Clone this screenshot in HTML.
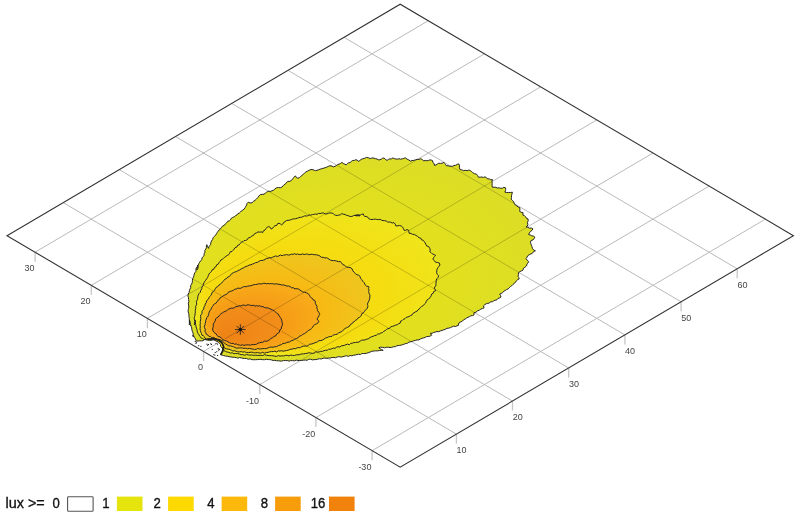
<!DOCTYPE html>
<html lang="en"><head><meta charset="utf-8"><title>Isolux diagram</title>
<style>html,body{margin:0;padding:0;background:#fff;}body{width:800px;height:517px;overflow:hidden;}svg{display:block;}</style>
</head><body>
<svg width="800" height="517" viewBox="0 0 800 517">
<rect width="800" height="517" fill="#fff"/>
<path d="M35.1,252.2L428.3,20.7M91.3,285.3L484.5,53.8M147.4,318.4L540.6,86.9M203.6,351.4L596.8,119.9M259.8,384.5L653.0,153.0M315.9,417.6L709.1,186.1M372.1,450.7L765.3,219.2M456.4,434.1L63.2,202.6M512.5,401.1L119.3,169.6M568.7,368.0L175.5,136.5M624.9,334.9L231.7,103.4M681.1,301.8L287.9,70.3M737.2,268.8L344.0,37.3" fill="none" stroke="#bababa" stroke-width="1" />
<path d="M35.1,252.2v9.5M91.3,285.3v9.5M147.4,318.4v9.5M203.6,351.4v9.5M259.8,384.5v9.5M315.9,417.6v9.5M372.1,450.7v9.5M456.4,434.1v9.5M512.5,401.1v9.5M568.7,368.0v9.5M624.9,334.9v9.5M681.1,301.8v9.5M737.2,268.8v9.5" fill="none" stroke="#c6c6c6" stroke-width="1.3"/>
<defs><clipPath id="oc"><path d="M196.9,270 L197.8,268.5 L198.2,266.8 L198.2,265.1 L198.9,263.5 L199.7,262.1 L200.8,260.8 L201.8,259.5 L202.1,257.8 L203.2,256.6 L204.1,255.2 L204.2,253.5 L205,252.1 L204.8,250.4 L205.8,249 L206.4,247.6 L206.3,246 L206.9,244.7 L207.5,246.7 L208.6,248.4 L208.8,246.8 L209.8,245.6 L210.7,244.3 L210.8,242.7 L211.5,241 L212.6,239.5 L213.2,237.7 L214.5,236.3 L215.5,235.1 L216.5,233.9 L217.2,232.5 L218.2,231.2 L219.1,230 L220.3,228.9 L221.4,227.5 L222.5,226.1 L224.3,225.4 L225.3,223.9 L226.7,222.8 L227.7,221.3 L229.3,220.8 L230.5,219.8 L231.3,218.2 L232.7,217.5 L234.2,216.8 L235.3,215.8 L236.8,215.1 L237.8,213.7 L239.3,213.1 L240.5,212 L241.5,210.8 L242.9,210 L244.2,209 L245.1,207.7 L245.8,206.3 L246.7,205 L247,203.4 L248.2,202.2 L250.1,202.9 L252,202.9 L253.3,201.4 L255,200.4 L256.4,199.1 L257.8,197.7 L258.8,196.1 L260.2,194.7 L262.1,194.4 L264,194.2 L265.2,193.3 L266.4,192.3 L267.7,191.6 L269,191.1 L270.2,191.5 L272,190.8 L273.7,190.1 L275,188.8 L276.5,187.8 L278.4,187.5 L280.3,187.8 L281.9,187.1 L283,185.9 L284.1,184.7 L285.6,183.9 L286.5,182.3 L287.9,181.5 L289.9,181.3 L291.6,180.3 L292.8,178.8 L294,177.2 L295.4,175.8 L296.3,177.4 L297.8,178.3 L299.3,177.6 L300.6,176.5 L301.9,175.5 L303.1,174.4 L304.4,173.4 L305.5,172.1 L307.4,171.2 L309.2,170.2 L311,169.5 L313,169.7 L314.2,170.3 L315.5,170.7 L317,170.3 L318.5,169.8 L320,169.2 L321.5,168.7 L323.1,168.3 L324.9,167.8 L326.6,167.2 L328.3,166.4 L330,165.7 L332,166.1 L333.7,166.9 L335.1,166.2 L336.5,165.6 L337.5,164.6 L339.1,164.1 L340.6,163.4 L341.9,162.3 L343.2,163.5 L344.8,164.2 L346.3,164.8 L347.4,163.6 L348.6,162.8 L350.3,162.5 L351.4,161.3 L352.7,160.5 L354.4,160.4 L355.8,159.7 L357.3,160.2 L358.2,161.3 L359.8,160.6 L361.1,159.4 L362.7,158.8 L364.7,158.3 L366.5,157.4 L368.5,157.8 L370.3,158.6 L372.1,157.9 L374,158.2 L375.5,158.7 L377,159 L378.4,159.8 L380,159.8 L381.3,159 L382.6,158.2 L384.1,158 L385.5,159.5 L387.1,160.4 L388.4,159.4 L389.9,158.9 L391.6,158.8 L392.9,157.9 L394.3,158.6 L395.8,159 L397.3,159.2 L398.9,158.7 L400.6,159.2 L402.3,158.8 L403.9,158.3 L405.5,157.9 L407.1,159.2 L408.9,160 L410.5,161.1 L412.1,160.5 L413.9,160.4 L415.5,159.8 L417.2,159.3 L419,159.5 L420.5,158.7 L422.3,159.5 L423.7,160.9 L425.2,160.4 L426.9,160.8 L428.5,160.4 L430,159.9 L431.3,160.1 L432.6,160.7 L432.8,162.4 L434.2,163.6 L434.4,165.3 L436,165 L437.4,164 L438.8,163.2 L440.5,163.4 L442.2,163.2 L443.8,162.4 L444.7,163.5 L445.6,164.6 L446.4,165.8 L448,165.7 L449.5,166.3 L451.1,166.2 L452.6,166.3 L454,165.4 L455.8,165.3 L457.2,164.3 L458.9,163.9 L459.5,165.8 L459.4,167.8 L460.2,169.7 L461.9,169.8 L463.3,170.7 L465.2,170.3 L467.2,170.7 L468.9,170 L470.4,170.7 L471.7,171.5 L472.8,172.7 L474.5,173.7 L476.4,174.1 L477.6,175.5 L478.4,177.2 L480.1,177.2 L481.8,177 L483.6,177.4 L485.4,176.8 L486.5,178.1 L487.9,178.9 L489.4,178.9 L490.8,179.8 L492.4,179.6 L492,181.5 L492.2,183.4 L492,185.3 L492.3,187.2 L494,187.2 L495.8,187.3 L497.4,188 L499.2,187.8 L500.8,188.3 L502.4,188.2 L503.9,187.4 L505.5,187.8 L505.7,189.3 L505.5,190.8 L504.8,192.1 L506.7,192.6 L508.6,192.5 L510.5,192.5 L512.4,192.2 L512,193.9 L511.5,195.6 L511.5,197.4 L511.1,199.1 L512.4,200.4 L513.6,201.8 L514.4,203.5 L515.4,205.1 L516.9,205.9 L518.1,207 L519.7,207.5 L519.9,209.4 L519.7,211.4 L521.2,212.3 L523,212.6 L522.9,215.1 L524.4,215.7 L525.6,216.7 L526.4,218.3 L528,218.9 L528.2,220.8 L527.4,222.6 L527.9,224.5 L527.3,226 L526,226.9 L527.8,227.2 L529.4,228.2 L531.4,228 L532.9,228.8 L532,230.4 L530.4,231.5 L529.4,232.9 L528.6,234.5 L530.2,235 L531.7,235.8 L533.4,236.1 L534.8,237.1 L534,238.7 L533,239.9 L531.1,240.5 L530.5,242.1 L530.8,243.7 L531.4,245.2 L532,246.8 L532.4,248.3 L533.6,250 L535.4,250.8 L533.7,251.4 L532.6,253.1 L530.9,254 L529.2,254.7 L527.8,255.7 L527,257.2 L526,258.5 L527.2,260.2 L528.7,261.6 L527.6,263.3 L526.7,264.9 L526.9,265.1 L526,266.4 L524.8,267.3 L523.5,268.2 L523,270.1 L521.5,270.8 L520,271.6 L518.5,272.6 L518.4,274.5 L518.1,276.4 L518.8,277.6 L519.2,278.9 L517.7,279.7 L516.5,280.7 L515.5,282 L514.4,283.4 L512.9,284.5 L511.7,285.8 L510.4,286.6 L509.3,287.8 L508.2,288.8 L506.8,289.5 L505.5,290.3 L503.9,291.1 L502.8,292.5 L501.4,293.4 L499.7,294 L500.5,295.5 L501,297 L499.6,297.9 L498,298.4 L496.9,299.8 L495.3,300.3 L493.7,300.6 L492.5,301.9 L490.6,301.7 L489.4,303.1 L487.8,303.3 L486.1,303.8 L484.7,304.8 L483.5,305.9 L484.1,307.9 L482.4,308.6 L480.7,309 L479.4,310.3 L477.6,310.8 L476,312.2 L473.9,312.8 L474.1,314.8 L472.6,315.6 L470.9,315.8 L469.5,316.6 L468,317.3 L466.5,318.1 L465.2,319 L463.5,319.9 L462.2,321.3 L460.5,322 L459,322.9 L458.2,325.1 L458.7,325.1 L457.1,325.8 L455.5,326.5 L453.6,326.2 L452.1,326.8 L450.5,327.6 L448.8,328.1 L447,328.3 L445.5,329.2 L443.8,329.8 L442.1,330.4 L440.4,330.9 L438.8,331.7 L437,331.5 L435.4,332.1 L433.7,332.4 L432.2,333.3 L430.4,333.3 L431.6,335.3 L430.1,336.1 L428.4,336.5 L426.7,336.5 L425.2,337.4 L423.6,337.9 L421.9,338.3 L420.3,339 L418.8,339.9 L417,339.9 L415.4,340.4 L413.7,340.8 L412.1,341.4 L410.5,341.8 L408.9,342.2 L407.5,343.2 L405.8,343.5 L404.3,344.1 L402.7,344.7 L401.2,345.1 L399.7,345.4 L398.1,345.5 L396.6,345.9 L395.2,346.8 L393.4,346.7 L391.7,347.4 L390,347.5 L388.2,347.2 L386.4,347.3 L384.5,347.8 L382.6,347.3 L380.7,347.2 L378.8,347.7 L380.2,348.7 L381.6,349.7 L383.2,350.3 L381.3,350.3 L379.4,350.5 L377.5,350.9 L375.6,350.8 L373.7,351.1 L371.8,351.3 L370,352.1 L368.1,352.8 L366.6,353.2 L365,353.6 L363.4,353.5 L361.8,353.6 L360.3,354.6 L358.6,354.2 L357,354.5 L355.5,355 L353.7,355.2 L351.9,355.8 L350.1,355.5 L348.4,356.4 L346.4,355.7 L344.7,356.2 L342.9,356.7 L341.1,357.1 L339.3,356.7 L337.5,356.8 L335.7,357.8 L333.9,357.4 L332.1,357.5 L330.3,358 L328.5,358 L326.7,358.4 L324.9,358.1 L323.1,358.2 L321.3,359 L319.5,358.7 L317.7,359.2 L315.9,359.6 L314.1,359.6 L312.4,359.9 L310.5,359.2 L308.7,359.3 L307,360.3 L305.2,360 L303.4,360.2 L301.6,360.5 L299.8,360.4 L298,360.5 L296.2,360.1 L294.4,360.9 L292.6,360.6 L290.8,360.6 L289,361.1 L287.2,360.5 L285.4,360.6 L283.6,360.5 L281.8,361.1 L280,361 L278.3,360.7 L276.6,360.8 L274.9,360.3 L273.2,360.5 L271.5,359.9 L269.8,359.6 L268.1,359.6 L266.3,359.2 L264.5,359.7 L262.7,359.7 L260.9,359.3 L259.1,359.4 L257.3,359.6 L255.5,359.7 L253.7,359.7 L251.9,359.7 L250.1,358.8 L248.3,359.3 L246.5,358.5 L244.7,358.5 L242.9,358.3 L241.2,357.9 L239.6,357.5 L237.8,358.2 L236.2,357.6 L234.5,357.3 L232.8,357.3 L230.9,356.9 L229,356.7 L227.2,356.2 L225.3,356 L223.7,355.6 L222.1,355.1 L220.4,354.7 L221.2,353.2 L222.1,351.7 L222.7,350 L223,348.2 L223.5,346.4 L222.6,344.5 L221.9,342.7 L220.5,342.1 L219.3,341.1 L218.2,340 L216.8,339.1 L215.3,338.7 L213.7,338.5 L212.1,338.2 L210.7,338.9 L209.1,338.7 L207.6,339.2 L206,339.4 L204.5,339.5 L203.2,340.6 L201.6,340.9 L199.8,340.8 L198.1,341 L196.3,341.1 L195.5,339 L194.7,337.7 L194,336.4 L193.3,335.1 L193.1,333.2 L192.4,331.5 L191.9,329.8 L191.7,327.9 L191,326.2 L190.3,324.5 L190.3,323 L189.9,321.5 L189.5,320 L189.3,321.7 L189.5,323.3 L189.4,325 L189.4,323.3 L189.6,321.6 L189.3,319.9 L189.3,318.3 L188.9,316.6 L189,315 L188.6,313.4 L188.2,311.9 L188.1,310.3 L188.5,308.6 L188.8,306.8 L188.6,305 L188.3,303.2 L188.9,301.5 L188.6,299.6 L188.5,297.8 L187.9,295.9 L188.2,294 L189.1,292.5 L189.4,290.8 L189.9,289.2 L190.7,287.7 L190.6,285.8 L191.5,284.2 L192.3,282.5 L192.4,280.7 L192.6,278.9 L193.4,277.4 L193.9,275.8 L194.2,274.1 L195,272.6 L196,271.2 L195.9,269.5 L196.2,267.9 L197.4,266.6 L197.6,265 L197.5,266.7 L197.2,268.3Z"/></clipPath></defs>
<defs><radialGradient id="g1" gradientUnits="userSpaceOnUse" cx="0" cy="0" r="1" fx="-0.649" fy="0.624" gradientTransform="translate(361.7 259.3) scale(173.8 101.9)"><stop offset="0.70" stop-color="#e2e01e"/><stop offset="1" stop-color="#dcdd25"/></radialGradient><radialGradient id="g2" gradientUnits="userSpaceOnUse" cx="0" cy="0" r="1" fx="-0.649" fy="0.624" gradientTransform="translate(317.0 284.7) scale(122.9 71.7)"><stop offset="0.69" stop-color="#f5dc10"/><stop offset="1" stop-color="#f0e41a"/></radialGradient><radialGradient id="g4" gradientUnits="userSpaceOnUse" cx="0" cy="0" r="1" fx="-0.656" fy="0.616" gradientTransform="translate(285.0 303.4) scale(85.0 49.8)"><stop offset="0.68" stop-color="#f7ba14"/><stop offset="1" stop-color="#eec61e"/></radialGradient><radialGradient id="g8" gradientUnits="userSpaceOnUse" cx="0" cy="0" r="1" fx="-0.654" fy="0.619" gradientTransform="translate(262.0 316.4) scale(57.7 33.1)"><stop offset="0.65" stop-color="#f69c16"/><stop offset="1" stop-color="#f8ac1a"/></radialGradient><radialGradient id="g16" gradientUnits="userSpaceOnUse" cx="0" cy="0" r="1" fx="-0.673" fy="0.598" gradientTransform="translate(247.5 325.1) scale(34.9 20.3)"><stop offset="0.15" stop-color="#ee8416"/><stop offset="1" stop-color="#f28e1a"/></radialGradient></defs>
<path d="M196.9,270 L197.8,268.5 L198.2,266.8 L198.2,265.1 L198.9,263.5 L199.7,262.1 L200.8,260.8 L201.8,259.5 L202.1,257.8 L203.2,256.6 L204.1,255.2 L204.2,253.5 L205,252.1 L204.8,250.4 L205.8,249 L206.4,247.6 L206.3,246 L206.9,244.7 L207.5,246.7 L208.6,248.4 L208.8,246.8 L209.8,245.6 L210.7,244.3 L210.8,242.7 L211.5,241 L212.6,239.5 L213.2,237.7 L214.5,236.3 L215.5,235.1 L216.5,233.9 L217.2,232.5 L218.2,231.2 L219.1,230 L220.3,228.9 L221.4,227.5 L222.5,226.1 L224.3,225.4 L225.3,223.9 L226.7,222.8 L227.7,221.3 L229.3,220.8 L230.5,219.8 L231.3,218.2 L232.7,217.5 L234.2,216.8 L235.3,215.8 L236.8,215.1 L237.8,213.7 L239.3,213.1 L240.5,212 L241.5,210.8 L242.9,210 L244.2,209 L245.1,207.7 L245.8,206.3 L246.7,205 L247,203.4 L248.2,202.2 L250.1,202.9 L252,202.9 L253.3,201.4 L255,200.4 L256.4,199.1 L257.8,197.7 L258.8,196.1 L260.2,194.7 L262.1,194.4 L264,194.2 L265.2,193.3 L266.4,192.3 L267.7,191.6 L269,191.1 L270.2,191.5 L272,190.8 L273.7,190.1 L275,188.8 L276.5,187.8 L278.4,187.5 L280.3,187.8 L281.9,187.1 L283,185.9 L284.1,184.7 L285.6,183.9 L286.5,182.3 L287.9,181.5 L289.9,181.3 L291.6,180.3 L292.8,178.8 L294,177.2 L295.4,175.8 L296.3,177.4 L297.8,178.3 L299.3,177.6 L300.6,176.5 L301.9,175.5 L303.1,174.4 L304.4,173.4 L305.5,172.1 L307.4,171.2 L309.2,170.2 L311,169.5 L313,169.7 L314.2,170.3 L315.5,170.7 L317,170.3 L318.5,169.8 L320,169.2 L321.5,168.7 L323.1,168.3 L324.9,167.8 L326.6,167.2 L328.3,166.4 L330,165.7 L332,166.1 L333.7,166.9 L335.1,166.2 L336.5,165.6 L337.5,164.6 L339.1,164.1 L340.6,163.4 L341.9,162.3 L343.2,163.5 L344.8,164.2 L346.3,164.8 L347.4,163.6 L348.6,162.8 L350.3,162.5 L351.4,161.3 L352.7,160.5 L354.4,160.4 L355.8,159.7 L357.3,160.2 L358.2,161.3 L359.8,160.6 L361.1,159.4 L362.7,158.8 L364.7,158.3 L366.5,157.4 L368.5,157.8 L370.3,158.6 L372.1,157.9 L374,158.2 L375.5,158.7 L377,159 L378.4,159.8 L380,159.8 L381.3,159 L382.6,158.2 L384.1,158 L385.5,159.5 L387.1,160.4 L388.4,159.4 L389.9,158.9 L391.6,158.8 L392.9,157.9 L394.3,158.6 L395.8,159 L397.3,159.2 L398.9,158.7 L400.6,159.2 L402.3,158.8 L403.9,158.3 L405.5,157.9 L407.1,159.2 L408.9,160 L410.5,161.1 L412.1,160.5 L413.9,160.4 L415.5,159.8 L417.2,159.3 L419,159.5 L420.5,158.7 L422.3,159.5 L423.7,160.9 L425.2,160.4 L426.9,160.8 L428.5,160.4 L430,159.9 L431.3,160.1 L432.6,160.7 L432.8,162.4 L434.2,163.6 L434.4,165.3 L436,165 L437.4,164 L438.8,163.2 L440.5,163.4 L442.2,163.2 L443.8,162.4 L444.7,163.5 L445.6,164.6 L446.4,165.8 L448,165.7 L449.5,166.3 L451.1,166.2 L452.6,166.3 L454,165.4 L455.8,165.3 L457.2,164.3 L458.9,163.9 L459.5,165.8 L459.4,167.8 L460.2,169.7 L461.9,169.8 L463.3,170.7 L465.2,170.3 L467.2,170.7 L468.9,170 L470.4,170.7 L471.7,171.5 L472.8,172.7 L474.5,173.7 L476.4,174.1 L477.6,175.5 L478.4,177.2 L480.1,177.2 L481.8,177 L483.6,177.4 L485.4,176.8 L486.5,178.1 L487.9,178.9 L489.4,178.9 L490.8,179.8 L492.4,179.6 L492,181.5 L492.2,183.4 L492,185.3 L492.3,187.2 L494,187.2 L495.8,187.3 L497.4,188 L499.2,187.8 L500.8,188.3 L502.4,188.2 L503.9,187.4 L505.5,187.8 L505.7,189.3 L505.5,190.8 L504.8,192.1 L506.7,192.6 L508.6,192.5 L510.5,192.5 L512.4,192.2 L512,193.9 L511.5,195.6 L511.5,197.4 L511.1,199.1 L512.4,200.4 L513.6,201.8 L514.4,203.5 L515.4,205.1 L516.9,205.9 L518.1,207 L519.7,207.5 L519.9,209.4 L519.7,211.4 L521.2,212.3 L523,212.6 L522.9,215.1 L524.4,215.7 L525.6,216.7 L526.4,218.3 L528,218.9 L528.2,220.8 L527.4,222.6 L527.9,224.5 L527.3,226 L526,226.9 L527.8,227.2 L529.4,228.2 L531.4,228 L532.9,228.8 L532,230.4 L530.4,231.5 L529.4,232.9 L528.6,234.5 L530.2,235 L531.7,235.8 L533.4,236.1 L534.8,237.1 L534,238.7 L533,239.9 L531.1,240.5 L530.5,242.1 L530.8,243.7 L531.4,245.2 L532,246.8 L532.4,248.3 L533.6,250 L535.4,250.8 L533.7,251.4 L532.6,253.1 L530.9,254 L529.2,254.7 L527.8,255.7 L527,257.2 L526,258.5 L527.2,260.2 L528.7,261.6 L527.6,263.3 L526.7,264.9 L526.9,265.1 L526,266.4 L524.8,267.3 L523.5,268.2 L523,270.1 L521.5,270.8 L520,271.6 L518.5,272.6 L518.4,274.5 L518.1,276.4 L518.8,277.6 L519.2,278.9 L517.7,279.7 L516.5,280.7 L515.5,282 L514.4,283.4 L512.9,284.5 L511.7,285.8 L510.4,286.6 L509.3,287.8 L508.2,288.8 L506.8,289.5 L505.5,290.3 L503.9,291.1 L502.8,292.5 L501.4,293.4 L499.7,294 L500.5,295.5 L501,297 L499.6,297.9 L498,298.4 L496.9,299.8 L495.3,300.3 L493.7,300.6 L492.5,301.9 L490.6,301.7 L489.4,303.1 L487.8,303.3 L486.1,303.8 L484.7,304.8 L483.5,305.9 L484.1,307.9 L482.4,308.6 L480.7,309 L479.4,310.3 L477.6,310.8 L476,312.2 L473.9,312.8 L474.1,314.8 L472.6,315.6 L470.9,315.8 L469.5,316.6 L468,317.3 L466.5,318.1 L465.2,319 L463.5,319.9 L462.2,321.3 L460.5,322 L459,322.9 L458.2,325.1 L458.7,325.1 L457.1,325.8 L455.5,326.5 L453.6,326.2 L452.1,326.8 L450.5,327.6 L448.8,328.1 L447,328.3 L445.5,329.2 L443.8,329.8 L442.1,330.4 L440.4,330.9 L438.8,331.7 L437,331.5 L435.4,332.1 L433.7,332.4 L432.2,333.3 L430.4,333.3 L431.6,335.3 L430.1,336.1 L428.4,336.5 L426.7,336.5 L425.2,337.4 L423.6,337.9 L421.9,338.3 L420.3,339 L418.8,339.9 L417,339.9 L415.4,340.4 L413.7,340.8 L412.1,341.4 L410.5,341.8 L408.9,342.2 L407.5,343.2 L405.8,343.5 L404.3,344.1 L402.7,344.7 L401.2,345.1 L399.7,345.4 L398.1,345.5 L396.6,345.9 L395.2,346.8 L393.4,346.7 L391.7,347.4 L390,347.5 L388.2,347.2 L386.4,347.3 L384.5,347.8 L382.6,347.3 L380.7,347.2 L378.8,347.7 L380.2,348.7 L381.6,349.7 L383.2,350.3 L381.3,350.3 L379.4,350.5 L377.5,350.9 L375.6,350.8 L373.7,351.1 L371.8,351.3 L370,352.1 L368.1,352.8 L366.6,353.2 L365,353.6 L363.4,353.5 L361.8,353.6 L360.3,354.6 L358.6,354.2 L357,354.5 L355.5,355 L353.7,355.2 L351.9,355.8 L350.1,355.5 L348.4,356.4 L346.4,355.7 L344.7,356.2 L342.9,356.7 L341.1,357.1 L339.3,356.7 L337.5,356.8 L335.7,357.8 L333.9,357.4 L332.1,357.5 L330.3,358 L328.5,358 L326.7,358.4 L324.9,358.1 L323.1,358.2 L321.3,359 L319.5,358.7 L317.7,359.2 L315.9,359.6 L314.1,359.6 L312.4,359.9 L310.5,359.2 L308.7,359.3 L307,360.3 L305.2,360 L303.4,360.2 L301.6,360.5 L299.8,360.4 L298,360.5 L296.2,360.1 L294.4,360.9 L292.6,360.6 L290.8,360.6 L289,361.1 L287.2,360.5 L285.4,360.6 L283.6,360.5 L281.8,361.1 L280,361 L278.3,360.7 L276.6,360.8 L274.9,360.3 L273.2,360.5 L271.5,359.9 L269.8,359.6 L268.1,359.6 L266.3,359.2 L264.5,359.7 L262.7,359.7 L260.9,359.3 L259.1,359.4 L257.3,359.6 L255.5,359.7 L253.7,359.7 L251.9,359.7 L250.1,358.8 L248.3,359.3 L246.5,358.5 L244.7,358.5 L242.9,358.3 L241.2,357.9 L239.6,357.5 L237.8,358.2 L236.2,357.6 L234.5,357.3 L232.8,357.3 L230.9,356.9 L229,356.7 L227.2,356.2 L225.3,356 L223.7,355.6 L222.1,355.1 L220.4,354.7 L221.2,353.2 L222.1,351.7 L222.7,350 L223,348.2 L223.5,346.4 L222.6,344.5 L221.9,342.7 L220.5,342.1 L219.3,341.1 L218.2,340 L216.8,339.1 L215.3,338.7 L213.7,338.5 L212.1,338.2 L210.7,338.9 L209.1,338.7 L207.6,339.2 L206,339.4 L204.5,339.5 L203.2,340.6 L201.6,340.9 L199.8,340.8 L198.1,341 L196.3,341.1 L195.5,339 L194.7,337.7 L194,336.4 L193.3,335.1 L193.1,333.2 L192.4,331.5 L191.9,329.8 L191.7,327.9 L191,326.2 L190.3,324.5 L190.3,323 L189.9,321.5 L189.5,320 L189.3,321.7 L189.5,323.3 L189.4,325 L189.4,323.3 L189.6,321.6 L189.3,319.9 L189.3,318.3 L188.9,316.6 L189,315 L188.6,313.4 L188.2,311.9 L188.1,310.3 L188.5,308.6 L188.8,306.8 L188.6,305 L188.3,303.2 L188.9,301.5 L188.6,299.6 L188.5,297.8 L187.9,295.9 L188.2,294 L189.1,292.5 L189.4,290.8 L189.9,289.2 L190.7,287.7 L190.6,285.8 L191.5,284.2 L192.3,282.5 L192.4,280.7 L192.6,278.9 L193.4,277.4 L193.9,275.8 L194.2,274.1 L195,272.6 L196,271.2 L195.9,269.5 L196.2,267.9 L197.4,266.6 L197.6,265 L197.5,266.7 L197.2,268.3Z" fill="url(#g1)" stroke="none"/>
<path d="M224.1,350.8 L223.5,349 L222,347.8 L220.7,346.5 L220.5,344.6 L219.4,343.2 L218.2,341.8 L216.6,341.5 L215.2,340.5 L213.7,340 L212.2,340 L210.7,340.5 L209.1,340.2 L207.6,340.2 L205.8,339.7 L204,339.6 L202.8,338.5 L201.2,338.1 L200.2,336.6 L199.2,335.1 L198.1,333.5 L197.3,331.8 L197.1,329.8 L196.4,328.1 L196,326.3 L195.7,324.5 L195.4,323 L195.1,321.5 L194.9,320 L195.3,321.7 L194.8,323.3 L194.4,325 L194.5,323.3 L195.1,321.6 L194.7,320 L194.1,318.3 L194.6,316.6 L195,315.1 L195.1,313.5 L195.4,311.9 L195.2,310.3 L195.8,308.5 L195.6,306.5 L196.6,304.8 L196.6,302.8 L196.4,301.2 L197.4,299.8 L197.7,298.3 L197.8,296.7 L198.2,295.2 L199.1,293.5 L200.4,292.1 L200.8,290.2 L201.8,288.8 L201.9,287 L203.1,285.6 L203.4,284 L204.3,282.2 L205.4,280.6 L206.5,279 L207.6,277.5 L208.3,275.7 L209,274 L210.2,272.6 L211.5,271.5 L212.1,269.8 L213.9,269.1 L214.5,267.4 L216.1,266.6 L216.6,264.8 L218.3,264.1 L219.1,262.5 L220,261.3 L220.9,260 L222.3,259.3 L223.5,258.4 L224.5,257.3 L225.8,256.5 L227.1,255.5 L228.6,254.8 L229.5,253.5 L230.2,251.9 L232,251.5 L233.1,250.3 L234.2,249.1 L235.1,247.6 L236.8,247.1 L237.5,245.4 L239.2,244.9 L240.2,243.4 L241.4,242.3 L243,241.6 L244,240.6 L245.4,240.5 L246.9,240 L247.7,238.5 L249,237.7 L250.5,237.2 L251.9,236 L253.6,235.3 L254.6,233.6 L256.4,232.9 L258,231.9 L260,232.2 L261.4,231.9 L262.6,232.8 L263.1,231.1 L264.8,230.3 L265.6,228.8 L267.1,227.4 L268.7,226.5 L270.4,227.5 L271.2,229.1 L272.7,228.2 L273.7,226.8 L275,225.7 L276.7,225.5 L277.4,223.8 L279,223.2 L280.3,223.9 L281.4,224.9 L282.8,224.1 L283.6,222.5 L285,221.7 L286.4,220.6 L288,220.3 L289.6,220.2 L291.2,219.7 L292.7,219 L294.3,218.9 L295.8,218.7 L297.3,218.2 L298.8,217.7 L300.3,217.3 L301.8,217.2 L303.3,216.5 L304.7,215.9 L306.3,216 L307.8,215.8 L309.2,214.9 L310.8,215.2 L312.3,214.6 L313.8,214.4 L315.3,214 L317,214.4 L318.4,213.4 L320,213.6 L321.6,213.2 L323.4,212.9 L325,213.9 L326.7,214 L328.3,213.3 L329.9,212.9 L331.8,213.1 L333.2,213.5 L334.2,214.7 L335.5,215.3 L337.2,215.5 L338.8,215.1 L340.4,214.8 L341.8,213.7 L343.4,214.2 L345,214.5 L346.5,215.3 L348.1,215.7 L349.9,216.4 L351.8,216.5 L353.6,215.6 L355.6,215.3 L357.1,215.5 L358.6,215 L360,215.9 L358.3,215.7 L356.6,215.9 L355,215.4 L356.7,215 L358.4,214.8 L360.1,215.2 L361.5,214.4 L363.3,214 L363.8,215.3 L364.5,216.4 L366.1,216.5 L367.6,217 L368.9,218.8 L370.5,219.4 L372,219.6 L373.6,219.3 L375.2,219.1 L376.7,219.4 L378.3,219.7 L379.9,219.3 L381.4,220.1 L383,220.6 L384.7,220.7 L386.3,221.1 L387.7,222.1 L389.3,222 L390.8,222.3 L392.4,223 L394,222.6 L395.2,224.1 L395.9,226 L397.8,225.8 L399.7,225.5 L401.5,226.2 L402.8,227.3 L403.5,228.7 L404.1,230.3 L405.6,230.4 L407,229.6 L408.5,230.2 L408.9,231.7 L409.1,233.3 L410.9,233.4 L412.5,234.3 L414.3,234.5 L416,235.4 L417.6,236.5 L419.1,237.8 L420.8,238.2 L421.5,239.8 L423.2,240.3 L424.2,241.5 L425.1,242.9 L425.9,244.4 L426.7,246 L428,246.4 L429.3,247.2 L429.9,248.6 L430.2,250.1 L429.8,251.7 L431.2,252.7 L432.4,253.9 L434,254.6 L435.6,255.4 L434.5,256.5 L433.6,257.7 L432.9,259.1 L434.3,260.7 L435.5,262.2 L437.4,262.5 L439.2,262.9 L440,265 L438.9,266.3 L438,267.6 L437,269.1 L436.8,270.8 L436.6,272.7 L437.3,274.4 L438.7,275.8 L438,277.4 L436.9,278.7 L436.2,280.2 L436.2,281.9 L435.9,283.5 L436,285.1 L435.1,286.7 L434.1,288.4 L435.3,289.3 L435.5,290.8 L433.8,291.4 L433.2,293.3 L431.7,294 L431.1,295.9 L430.1,297.6 L428.5,298.9 L427.1,299.9 L426.3,301.4 L425.6,303.1 L424.3,304.2 L423.2,305.6 L421.5,306.5 L420.2,307.7 L419.1,309.1 L417.8,310 L416.9,311.4 L415.3,311.9 L414,312.8 L412.7,313.6 L411.9,315.1 L410.3,315.7 L409.1,316.5 L407.7,317 L406.1,317.4 L405,318.7 L403.4,319.3 L402.2,320.5 L400.6,321.2 L400.2,323.1 L398.6,323.7 L397.2,324.8 L395.5,325.1 L394,325.9 L392.3,326.4 L390.7,326.8 L389.6,328.3 L387.9,328.7 L386.4,329.5 L385.2,330.6 L383.7,331.4 L382.5,332.5 L380.9,333 L379.5,333.9 L377.7,334 L376.3,335.3 L374.6,335.6 L373.1,336.3 L371.5,336.8 L369.9,337.6 L368.1,339 L366.5,339.2 L365,339.9 L363.3,340.1 L361.6,340.2 L360.2,341.1 L358.8,342.2 L357.1,342.2 L355.5,342.5 L353.8,342.6 L352.3,343.2 L350.7,343.4 L349.3,344.8 L347.5,344.1 L346,344.7 L344.4,345.3 L342.9,345.7 L341.2,345.8 L339.9,347.1 L338.1,346.7 L336.5,347.2 L335.1,348.3 L333.4,348.1 L331.8,348.7 L330.3,349.3 L328.6,349.2 L327.2,350.3 L325.5,350.2 L324,350.7 L322.5,351.3 L320.8,351.3 L319.3,351.8 L317.7,352.2 L315.8,351.8 L314.2,353.1 L312.4,353.4 L310.6,353 L308.7,352.8 L307,353.3 L305.2,353.6 L303.4,353.9 L301.6,353.9 L299.8,354.5 L298,354.8 L296.2,354.8 L294.5,355.5 L292.6,355.4 L290.8,355 L289,355.9 L287.2,355.3 L285.4,355.4 L283.6,356 L281.8,355.8 L280,356.1 L278.3,355.6 L276.6,356.4 L274.9,356.2 L273.2,355.8 L271.5,355.6 L269.8,355.7 L268.1,355.5 L266.3,355.2 L264.5,354.7 L262.7,355.5 L260.9,355.3 L259.1,355.4 L257.3,355.4 L255.5,355.2 L253.7,355.4 L251.9,354.9 L250.1,355.1 L248.3,354.9 L246.5,354.4 L244.7,355.3 L242.9,354.6 L241.1,354.7 L239.3,354 L237.5,353.6 L235.7,353.5 L233.9,353.6 L232.2,352.8 L230.3,353.1 L228.8,352.3 L227.1,352.1 L225.6,351.4Z" fill="url(#g2)" stroke="none"/>
<path d="M200,325 L200.3,323.3 L200.2,321.6 L200.6,320 L200.8,318.3 L200.6,316.6 L200.7,314.9 L202.1,313.6 L201.9,311.8 L202.5,310.3 L203.8,309 L203.9,307.1 L204.9,305.7 L205.2,304 L206.3,302.5 L206.7,300.6 L208.1,299.4 L209,297.8 L209.8,296.5 L210.9,295.3 L211.7,294 L212,292.4 L213.4,291.5 L214.5,290.2 L215.3,288.7 L216.2,287.3 L217.8,286.5 L218.9,285.1 L220.4,284.1 L221.8,282.9 L222.9,281.5 L224.1,280.2 L225.2,279 L226.7,278.4 L227.7,277 L229.4,276.5 L230.4,275.2 L231.6,273.7 L233.2,272.8 L234.8,272 L236.7,271.5 L238.1,270.5 L239.8,269.9 L241.2,268.8 L242.9,268.2 L244.4,267.3 L246,266.4 L247.7,265.9 L249.2,265 L251,264.8 L252.4,264 L254.1,263.6 L255.5,262.6 L257.4,262.4 L258.9,261.4 L260.5,260.5 L262.1,260.5 L263.6,260.1 L265,259.5 L266.3,258.5 L267.9,258.4 L269.4,257.5 L271.1,257.9 L272.6,257.2 L274.1,256.6 L275.6,255.9 L277.4,256.5 L278.9,255.9 L280.4,255 L282.1,255.7 L283.6,255.1 L285.2,254.9 L286.7,254.6 L288.3,255 L289.9,254.9 L291.4,254.1 L293,254.4 L294.5,253.7 L296.1,254.4 L297.7,254 L299.4,254.5 L301,254.5 L302.6,253.8 L304.1,254.6 L305.8,254.1 L307.4,254 L308.9,254.8 L310.8,254.2 L312.6,254.4 L314.5,254.7 L316.4,254.8 L318.3,255.3 L320,256 L321.4,257.4 L323.1,257.2 L324.8,258 L326.4,257.7 L327.8,258.3 L329.1,259.2 L330.3,260.1 L331.9,260.5 L333.6,260.6 L335.3,260.7 L336.9,261.1 L338.6,261.7 L340.3,261.4 L341.6,262.9 L342.8,264.6 L344.2,265.1 L345.5,266 L346.6,267.2 L348.5,267.3 L350.4,267.6 L352.1,268.8 L352.9,270.8 L354.1,272.4 L355.5,273.7 L356.9,274.7 L358.6,275.2 L360.1,276.4 L360.5,278.2 L361.7,279.6 L362.8,281.3 L364.2,282.7 L364.8,284.1 L365.6,285.4 L366.7,286.3 L368.1,286.3 L369.1,287.1 L368.4,288.5 L369.1,290.1 L368.6,291.5 L369.1,293.4 L370,295.3 L369.8,297 L369.7,298.7 L369.2,300.3 L368.2,302.2 L367.5,304.1 L367.8,305.3 L367.9,306.5 L367.2,308.6 L365.5,310 L365.4,310 L364.4,311.5 L363.3,312.9 L361.7,313.8 L361.4,315.3 L360.6,316.5 L359.3,317.4 L357.9,318.1 L357,319.6 L355.5,320.2 L354.4,321.6 L352.7,322.5 L351.7,324 L350.2,324.7 L349.4,326.4 L347.9,327.1 L346.3,327.9 L344.6,328.7 L343.4,330.1 L342.1,331.4 L340.5,332.2 L338.7,332.9 L337.2,334.2 L335.3,334.6 L333.5,334.9 L332.1,336.3 L330.3,336.6 L328.6,336.8 L327.1,337.6 L325.4,338.1 L324,339.2 L322.6,340.1 L320.9,340.6 L319.1,340.6 L317.7,341.7 L316.2,342.4 L314.6,342.9 L313,343.6 L311.4,344.1 L309.7,344.1 L308.4,345.5 L306.9,346.2 L305.2,346 L303.5,346.2 L301.9,346.5 L300.5,347.6 L298.9,347.7 L297.2,347.7 L295.8,348.8 L294.1,348.5 L292.6,349 L291,349.2 L289.4,349.7 L287.9,350.3 L286.3,350.5 L284.8,350.9 L283.2,351.2 L281.6,350.7 L280,351.1 L278.3,350.8 L276.7,352 L274.8,351.2 L273.2,351.6 L271.4,351.6 L269.7,351.8 L268.1,352.4 L266.3,352.5 L264.5,353.2 L262.7,352.3 L260.9,353.1 L259.1,353 L257.3,352.6 L255.5,352.8 L253.7,352.8 L251.9,352.1 L250.1,352.4 L248.3,352.6 L246.5,352.6 L244.7,351.8 L242.9,352.1 L241.3,351.6 L239.5,351.9 L237.8,351.9 L236.2,351.3 L234.5,350.7 L232.8,351 L231.3,350.1 L229.8,349.5 L228.2,349.1 L226.6,348.9 L224.6,348.2 L223.4,346.5 L223.2,344.6 L221.6,343.3 L221.5,341.5 L219.5,341.1 L217.7,340.2 L216.1,340 L214.5,339.7 L213,339.1 L211.4,339.4 L209.8,339.5 L208.2,339.2 L206.7,339 L205.1,338.4 L204.5,336.9 L203.4,335.9 L201.9,335.2 L201.5,333.6 L200.8,332.1 L200.4,330.5 L200,328.9 L200.3,326.9Z" fill="url(#g4)" stroke="none"/>
<path d="M205.1,325 L205.1,323.4 L205.7,322 L205.7,320.5 L206.3,319 L206.9,317.5 L208.1,316.1 L208.6,314.5 L209,312.8 L209.6,311.1 L210.8,309.7 L211.5,307.9 L212.6,306.4 L213.4,305 L214.5,303.8 L216.1,303.1 L217,301.8 L217.8,300.4 L219.2,299.5 L220,298 L221.3,297.1 L222.8,296.3 L224,295.3 L225.8,294.6 L227.4,293.7 L228.5,292 L230.3,291.4 L231.9,291 L233.5,290.2 L234.9,289.2 L236.6,288.9 L238,288 L239.9,288.4 L241.4,287.9 L242.9,287 L244.4,286.5 L246.1,286.8 L247.6,286.2 L249.2,285.9 L250.9,285.8 L252.4,285.2 L253.9,284.7 L255.5,284.5 L257.1,284.3 L258.6,283.8 L260.2,283.8 L261.8,284 L263.4,283.3 L264.9,283.3 L266.5,283.8 L268.1,283.5 L269.6,283.7 L271.2,283.7 L272.8,283.7 L274.3,284.1 L276.2,283.8 L278.1,284.2 L280,284.4 L281.6,285 L283.4,284.9 L285,285.3 L286.6,286.1 L288.4,286 L290,286.5 L291.5,287.7 L293.5,287.8 L295,288.9 L296.9,288.7 L298.7,289.1 L300,290.2 L301.5,290.9 L302.6,292.1 L304.6,292.1 L306.4,292.8 L308.3,293.7 L309.5,295.3 L310.2,296.7 L311.2,297.8 L312.5,298.5 L313.1,299.9 L314.8,300.4 L315.3,301.9 L315.4,303.6 L316.2,305 L317.1,306.4 L316.8,307.9 L317.4,309.4 L317.6,310.8 L318.9,312.5 L319.7,314.6 L318.8,315.8 L318.3,317.3 L317.1,318.3 L317.6,320.1 L319,321.4 L317.9,322.9 L316.4,323.9 L314.7,324.7 L313.4,325.7 L312.7,327.1 L311.6,328.3 L310.5,329.6 L308.8,330.2 L307.4,331.4 L305.9,332.6 L304.4,333.7 L302.7,334.4 L301.3,335.6 L299.4,336.2 L298.2,337.7 L296.5,338.5 L294.7,339.2 L293.1,340.3 L291.2,340.7 L289.8,341.9 L288,342.1 L286.3,342.7 L284.8,343.4 L283,343.4 L281.6,344.5 L280,345.1 L278.3,345.6 L276.7,346.6 L274.8,346.7 L273,347.3 L271.3,347 L269.6,347.3 L268,347.9 L266.3,348.6 L264.6,348.6 L262.9,348.6 L261.2,348.9 L259.6,349 L257.8,348.4 L256.2,349.3 L254.5,349.5 L252.8,349 L251,348.9 L249.3,348.3 L247.5,348.8 L245.8,348.2 L244,348.4 L242.3,348 L240.5,347.9 L238.7,348 L236.9,348.2 L235.2,347.7 L233.7,346.8 L232.2,346.4 L230.6,345.9 L228.9,346 L227.1,344.9 L225.3,344 L224,342.7 L222.9,341.3 L221.4,340.3 L219.9,339.7 L218.3,339.2 L216.6,339.1 L215.1,338.3 L213.7,337.4 L211.8,337.9 L210.5,336.5 L208.9,336.4 L207.9,335.1 L206.3,334.4 L205.8,332.8 L204.9,331.2 L205.3,329.3 L204.5,327.7 L204.3,326.2Z" fill="url(#g8)" stroke="none"/>
<path d="M212.6,329 L213.1,327.4 L213.3,325.7 L213.3,324.1 L214.3,322.4 L215.3,320.8 L215.6,318.8 L216.8,317.8 L218.2,317 L219.1,315.7 L220.2,314.6 L221.2,313.4 L222.6,312.9 L223.8,311.9 L225.2,311.4 L226.8,310.7 L228.1,309.3 L229.7,308.7 L231.4,308.1 L233.1,308.2 L234.6,307.6 L236,306.5 L237.7,306.5 L239.2,305.7 L240.9,306 L242.4,305.2 L244,305.1 L245.6,305.7 L247.1,304.9 L248.7,304.8 L250.3,305.3 L251.8,305.7 L253.5,305.2 L255,306.1 L256.6,305.7 L258.2,306.1 L259.8,305.7 L261.3,306.7 L262.9,306.5 L264.3,307.4 L265.9,307.9 L267.7,307.8 L269.2,308.6 L270.9,309.1 L272.5,310 L274.2,310.7 L275.5,312 L276.7,313.3 L278.4,314.2 L279.1,315.8 L280.2,317.2 L281.1,318.6 L281.7,320.2 L282,321.9 L282.4,323.5 L282.4,325.2 L281.5,327 L281.2,329.1 L279.6,330.2 L279.5,332.2 L277.9,333.3 L276.5,334.1 L275.8,335.9 L274.1,336.4 L272.6,337.7 L270.8,338.6 L269.3,339.9 L267.8,340.8 L266.2,341.3 L264.3,341.1 L262.9,342.3 L261.2,342.4 L259.6,342.7 L258,343.2 L256.6,344.2 L255.1,344.5 L253.4,344.6 L251.8,344.6 L250.3,345.2 L248.7,344.9 L247.1,344.9 L245.6,344.9 L244,345.5 L242.5,344.7 L240.8,345.4 L239.3,345 L237.7,344.7 L236.2,343.9 L234.5,344.3 L233.1,343.3 L231.4,343.5 L229.6,342.8 L228,341.9 L226.4,341 L224.5,340.5 L222.9,339.6 L221.4,338.3 L220.2,336.9 L218.3,336.6 L216.9,335.4 L216.3,333.9 L214.9,333.1 L213.8,332.1 L212.9,330.7Z" fill="url(#g16)" stroke="none"/>
<path d="M35.1,252.2L428.3,20.7M91.3,285.3L484.5,53.8M147.4,318.4L540.6,86.9M203.6,351.4L596.8,119.9M259.8,384.5L653.0,153.0M315.9,417.6L709.1,186.1M372.1,450.7L765.3,219.2M456.4,434.1L63.2,202.6M512.5,401.1L119.3,169.6M568.7,368.0L175.5,136.5M624.9,334.9L231.7,103.4M681.1,301.8L287.9,70.3M737.2,268.8L344.0,37.3" fill="none" stroke="#000" stroke-width="1" stroke-opacity="0.2" clip-path="url(#oc)"/>
<path d="M196.9,270 L197.8,268.5 L198.2,266.8 L198.2,265.1 L198.9,263.5 L199.7,262.1 L200.8,260.8 L201.8,259.5 L202.1,257.8 L203.2,256.6 L204.1,255.2 L204.2,253.5 L205,252.1 L204.8,250.4 L205.8,249 L206.4,247.6 L206.3,246 L206.9,244.7 L207.5,246.7 L208.6,248.4 L208.8,246.8 L209.8,245.6 L210.7,244.3 L210.8,242.7 L211.5,241 L212.6,239.5 L213.2,237.7 L214.5,236.3 L215.5,235.1 L216.5,233.9 L217.2,232.5 L218.2,231.2 L219.1,230 L220.3,228.9 L221.4,227.5 L222.5,226.1 L224.3,225.4 L225.3,223.9 L226.7,222.8 L227.7,221.3 L229.3,220.8 L230.5,219.8 L231.3,218.2 L232.7,217.5 L234.2,216.8 L235.3,215.8 L236.8,215.1 L237.8,213.7 L239.3,213.1 L240.5,212 L241.5,210.8 L242.9,210 L244.2,209 L245.1,207.7 L245.8,206.3 L246.7,205 L247,203.4 L248.2,202.2 L250.1,202.9 L252,202.9 L253.3,201.4 L255,200.4 L256.4,199.1 L257.8,197.7 L258.8,196.1 L260.2,194.7 L262.1,194.4 L264,194.2 L265.2,193.3 L266.4,192.3 L267.7,191.6 L269,191.1 L270.2,191.5 L272,190.8 L273.7,190.1 L275,188.8 L276.5,187.8 L278.4,187.5 L280.3,187.8 L281.9,187.1 L283,185.9 L284.1,184.7 L285.6,183.9 L286.5,182.3 L287.9,181.5 L289.9,181.3 L291.6,180.3 L292.8,178.8 L294,177.2 L295.4,175.8 L296.3,177.4 L297.8,178.3 L299.3,177.6 L300.6,176.5 L301.9,175.5 L303.1,174.4 L304.4,173.4 L305.5,172.1 L307.4,171.2 L309.2,170.2 L311,169.5 L313,169.7 L314.2,170.3 L315.5,170.7 L317,170.3 L318.5,169.8 L320,169.2 L321.5,168.7 L323.1,168.3 L324.9,167.8 L326.6,167.2 L328.3,166.4 L330,165.7 L332,166.1 L333.7,166.9 L335.1,166.2 L336.5,165.6 L337.5,164.6 L339.1,164.1 L340.6,163.4 L341.9,162.3 L343.2,163.5 L344.8,164.2 L346.3,164.8 L347.4,163.6 L348.6,162.8 L350.3,162.5 L351.4,161.3 L352.7,160.5 L354.4,160.4 L355.8,159.7 L357.3,160.2 L358.2,161.3 L359.8,160.6 L361.1,159.4 L362.7,158.8 L364.7,158.3 L366.5,157.4 L368.5,157.8 L370.3,158.6 L372.1,157.9 L374,158.2 L375.5,158.7 L377,159 L378.4,159.8 L380,159.8 L381.3,159 L382.6,158.2 L384.1,158 L385.5,159.5 L387.1,160.4 L388.4,159.4 L389.9,158.9 L391.6,158.8 L392.9,157.9 L394.3,158.6 L395.8,159 L397.3,159.2 L398.9,158.7 L400.6,159.2 L402.3,158.8 L403.9,158.3 L405.5,157.9 L407.1,159.2 L408.9,160 L410.5,161.1 L412.1,160.5 L413.9,160.4 L415.5,159.8 L417.2,159.3 L419,159.5 L420.5,158.7 L422.3,159.5 L423.7,160.9 L425.2,160.4 L426.9,160.8 L428.5,160.4 L430,159.9 L431.3,160.1 L432.6,160.7 L432.8,162.4 L434.2,163.6 L434.4,165.3 L436,165 L437.4,164 L438.8,163.2 L440.5,163.4 L442.2,163.2 L443.8,162.4 L444.7,163.5 L445.6,164.6 L446.4,165.8 L448,165.7 L449.5,166.3 L451.1,166.2 L452.6,166.3 L454,165.4 L455.8,165.3 L457.2,164.3 L458.9,163.9 L459.5,165.8 L459.4,167.8 L460.2,169.7 L461.9,169.8 L463.3,170.7 L465.2,170.3 L467.2,170.7 L468.9,170 L470.4,170.7 L471.7,171.5 L472.8,172.7 L474.5,173.7 L476.4,174.1 L477.6,175.5 L478.4,177.2 L480.1,177.2 L481.8,177 L483.6,177.4 L485.4,176.8 L486.5,178.1 L487.9,178.9 L489.4,178.9 L490.8,179.8 L492.4,179.6 L492,181.5 L492.2,183.4 L492,185.3 L492.3,187.2 L494,187.2 L495.8,187.3 L497.4,188 L499.2,187.8 L500.8,188.3 L502.4,188.2 L503.9,187.4 L505.5,187.8 L505.7,189.3 L505.5,190.8 L504.8,192.1 L506.7,192.6 L508.6,192.5 L510.5,192.5 L512.4,192.2 L512,193.9 L511.5,195.6 L511.5,197.4 L511.1,199.1 L512.4,200.4 L513.6,201.8 L514.4,203.5 L515.4,205.1 L516.9,205.9 L518.1,207 L519.7,207.5 L519.9,209.4 L519.7,211.4 L521.2,212.3 L523,212.6 L522.9,215.1 L524.4,215.7 L525.6,216.7 L526.4,218.3 L528,218.9 L528.2,220.8 L527.4,222.6 L527.9,224.5 L527.3,226 L526,226.9 L527.8,227.2 L529.4,228.2 L531.4,228 L532.9,228.8 L532,230.4 L530.4,231.5 L529.4,232.9 L528.6,234.5 L530.2,235 L531.7,235.8 L533.4,236.1 L534.8,237.1 L534,238.7 L533,239.9 L531.1,240.5 L530.5,242.1 L530.8,243.7 L531.4,245.2 L532,246.8 L532.4,248.3 L533.6,250 L535.4,250.8 L533.7,251.4 L532.6,253.1 L530.9,254 L529.2,254.7 L527.8,255.7 L527,257.2 L526,258.5 L527.2,260.2 L528.7,261.6 L527.6,263.3 L526.7,264.9 L526.9,265.1 L526,266.4 L524.8,267.3 L523.5,268.2 L523,270.1 L521.5,270.8 L520,271.6 L518.5,272.6 L518.4,274.5 L518.1,276.4 L518.8,277.6 L519.2,278.9 L517.7,279.7 L516.5,280.7 L515.5,282 L514.4,283.4 L512.9,284.5 L511.7,285.8 L510.4,286.6 L509.3,287.8 L508.2,288.8 L506.8,289.5 L505.5,290.3 L503.9,291.1 L502.8,292.5 L501.4,293.4 L499.7,294 L500.5,295.5 L501,297 L499.6,297.9 L498,298.4 L496.9,299.8 L495.3,300.3 L493.7,300.6 L492.5,301.9 L490.6,301.7 L489.4,303.1 L487.8,303.3 L486.1,303.8 L484.7,304.8 L483.5,305.9 L484.1,307.9 L482.4,308.6 L480.7,309 L479.4,310.3 L477.6,310.8 L476,312.2 L473.9,312.8 L474.1,314.8 L472.6,315.6 L470.9,315.8 L469.5,316.6 L468,317.3 L466.5,318.1 L465.2,319 L463.5,319.9 L462.2,321.3 L460.5,322 L459,322.9 L458.2,325.1 L458.7,325.1 L457.1,325.8 L455.5,326.5 L453.6,326.2 L452.1,326.8 L450.5,327.6 L448.8,328.1 L447,328.3 L445.5,329.2 L443.8,329.8 L442.1,330.4 L440.4,330.9 L438.8,331.7 L437,331.5 L435.4,332.1 L433.7,332.4 L432.2,333.3 L430.4,333.3 L431.6,335.3 L430.1,336.1 L428.4,336.5 L426.7,336.5 L425.2,337.4 L423.6,337.9 L421.9,338.3 L420.3,339 L418.8,339.9 L417,339.9 L415.4,340.4 L413.7,340.8 L412.1,341.4 L410.5,341.8 L408.9,342.2 L407.5,343.2 L405.8,343.5 L404.3,344.1 L402.7,344.7 L401.2,345.1 L399.7,345.4 L398.1,345.5 L396.6,345.9 L395.2,346.8 L393.4,346.7 L391.7,347.4 L390,347.5 L388.2,347.2 L386.4,347.3 L384.5,347.8 L382.6,347.3 L380.7,347.2 L378.8,347.7 L380.2,348.7 L381.6,349.7 L383.2,350.3 L381.3,350.3 L379.4,350.5 L377.5,350.9 L375.6,350.8 L373.7,351.1 L371.8,351.3 L370,352.1 L368.1,352.8 L366.6,353.2 L365,353.6 L363.4,353.5 L361.8,353.6 L360.3,354.6 L358.6,354.2 L357,354.5 L355.5,355 L353.7,355.2 L351.9,355.8 L350.1,355.5 L348.4,356.4 L346.4,355.7 L344.7,356.2 L342.9,356.7 L341.1,357.1 L339.3,356.7 L337.5,356.8 L335.7,357.8 L333.9,357.4 L332.1,357.5 L330.3,358 L328.5,358 L326.7,358.4 L324.9,358.1 L323.1,358.2 L321.3,359 L319.5,358.7 L317.7,359.2 L315.9,359.6 L314.1,359.6 L312.4,359.9 L310.5,359.2 L308.7,359.3 L307,360.3 L305.2,360 L303.4,360.2 L301.6,360.5 L299.8,360.4 L298,360.5 L296.2,360.1 L294.4,360.9 L292.6,360.6 L290.8,360.6 L289,361.1 L287.2,360.5 L285.4,360.6 L283.6,360.5 L281.8,361.1 L280,361 L278.3,360.7 L276.6,360.8 L274.9,360.3 L273.2,360.5 L271.5,359.9 L269.8,359.6 L268.1,359.6 L266.3,359.2 L264.5,359.7 L262.7,359.7 L260.9,359.3 L259.1,359.4 L257.3,359.6 L255.5,359.7 L253.7,359.7 L251.9,359.7 L250.1,358.8 L248.3,359.3 L246.5,358.5 L244.7,358.5 L242.9,358.3 L241.2,357.9 L239.6,357.5 L237.8,358.2 L236.2,357.6 L234.5,357.3 L232.8,357.3 L230.9,356.9 L229,356.7 L227.2,356.2 L225.3,356 L223.7,355.6 L222.1,355.1 L220.4,354.7 L221.2,353.2 L222.1,351.7 L222.7,350 L223,348.2 L223.5,346.4 L222.6,344.5 L221.9,342.7 L220.5,342.1 L219.3,341.1 L218.2,340 L216.8,339.1 L215.3,338.7 L213.7,338.5 L212.1,338.2 L210.7,338.9 L209.1,338.7 L207.6,339.2 L206,339.4 L204.5,339.5 L203.2,340.6 L201.6,340.9 L199.8,340.8 L198.1,341 L196.3,341.1 L195.5,339 L194.7,337.7 L194,336.4 L193.3,335.1 L193.1,333.2 L192.4,331.5 L191.9,329.8 L191.7,327.9 L191,326.2 L190.3,324.5 L190.3,323 L189.9,321.5 L189.5,320 L189.3,321.7 L189.5,323.3 L189.4,325 L189.4,323.3 L189.6,321.6 L189.3,319.9 L189.3,318.3 L188.9,316.6 L189,315 L188.6,313.4 L188.2,311.9 L188.1,310.3 L188.5,308.6 L188.8,306.8 L188.6,305 L188.3,303.2 L188.9,301.5 L188.6,299.6 L188.5,297.8 L187.9,295.9 L188.2,294 L189.1,292.5 L189.4,290.8 L189.9,289.2 L190.7,287.7 L190.6,285.8 L191.5,284.2 L192.3,282.5 L192.4,280.7 L192.6,278.9 L193.4,277.4 L193.9,275.8 L194.2,274.1 L195,272.6 L196,271.2 L195.9,269.5 L196.2,267.9 L197.4,266.6 L197.6,265 L197.5,266.7 L197.2,268.3Z" fill="none" stroke="#242424" stroke-width="1" stroke-linejoin="round"/>
<path d="M224.1,350.8 L223.5,349 L222,347.8 L220.7,346.5 L220.5,344.6 L219.4,343.2 L218.2,341.8 L216.6,341.5 L215.2,340.5 L213.7,340 L212.2,340 L210.7,340.5 L209.1,340.2 L207.6,340.2 L205.8,339.7 L204,339.6 L202.8,338.5 L201.2,338.1 L200.2,336.6 L199.2,335.1 L198.1,333.5 L197.3,331.8 L197.1,329.8 L196.4,328.1 L196,326.3 L195.7,324.5 L195.4,323 L195.1,321.5 L194.9,320 L195.3,321.7 L194.8,323.3 L194.4,325 L194.5,323.3 L195.1,321.6 L194.7,320 L194.1,318.3 L194.6,316.6 L195,315.1 L195.1,313.5 L195.4,311.9 L195.2,310.3 L195.8,308.5 L195.6,306.5 L196.6,304.8 L196.6,302.8 L196.4,301.2 L197.4,299.8 L197.7,298.3 L197.8,296.7 L198.2,295.2 L199.1,293.5 L200.4,292.1 L200.8,290.2 L201.8,288.8 L201.9,287 L203.1,285.6 L203.4,284 L204.3,282.2 L205.4,280.6 L206.5,279 L207.6,277.5 L208.3,275.7 L209,274 L210.2,272.6 L211.5,271.5 L212.1,269.8 L213.9,269.1 L214.5,267.4 L216.1,266.6 L216.6,264.8 L218.3,264.1 L219.1,262.5 L220,261.3 L220.9,260 L222.3,259.3 L223.5,258.4 L224.5,257.3 L225.8,256.5 L227.1,255.5 L228.6,254.8 L229.5,253.5 L230.2,251.9 L232,251.5 L233.1,250.3 L234.2,249.1 L235.1,247.6 L236.8,247.1 L237.5,245.4 L239.2,244.9 L240.2,243.4 L241.4,242.3 L243,241.6 L244,240.6 L245.4,240.5 L246.9,240 L247.7,238.5 L249,237.7 L250.5,237.2 L251.9,236 L253.6,235.3 L254.6,233.6 L256.4,232.9 L258,231.9 L260,232.2 L261.4,231.9 L262.6,232.8 L263.1,231.1 L264.8,230.3 L265.6,228.8 L267.1,227.4 L268.7,226.5 L270.4,227.5 L271.2,229.1 L272.7,228.2 L273.7,226.8 L275,225.7 L276.7,225.5 L277.4,223.8 L279,223.2 L280.3,223.9 L281.4,224.9 L282.8,224.1 L283.6,222.5 L285,221.7 L286.4,220.6 L288,220.3 L289.6,220.2 L291.2,219.7 L292.7,219 L294.3,218.9 L295.8,218.7 L297.3,218.2 L298.8,217.7 L300.3,217.3 L301.8,217.2 L303.3,216.5 L304.7,215.9 L306.3,216 L307.8,215.8 L309.2,214.9 L310.8,215.2 L312.3,214.6 L313.8,214.4 L315.3,214 L317,214.4 L318.4,213.4 L320,213.6 L321.6,213.2 L323.4,212.9 L325,213.9 L326.7,214 L328.3,213.3 L329.9,212.9 L331.8,213.1 L333.2,213.5 L334.2,214.7 L335.5,215.3 L337.2,215.5 L338.8,215.1 L340.4,214.8 L341.8,213.7 L343.4,214.2 L345,214.5 L346.5,215.3 L348.1,215.7 L349.9,216.4 L351.8,216.5 L353.6,215.6 L355.6,215.3 L357.1,215.5 L358.6,215 L360,215.9 L358.3,215.7 L356.6,215.9 L355,215.4 L356.7,215 L358.4,214.8 L360.1,215.2 L361.5,214.4 L363.3,214 L363.8,215.3 L364.5,216.4 L366.1,216.5 L367.6,217 L368.9,218.8 L370.5,219.4 L372,219.6 L373.6,219.3 L375.2,219.1 L376.7,219.4 L378.3,219.7 L379.9,219.3 L381.4,220.1 L383,220.6 L384.7,220.7 L386.3,221.1 L387.7,222.1 L389.3,222 L390.8,222.3 L392.4,223 L394,222.6 L395.2,224.1 L395.9,226 L397.8,225.8 L399.7,225.5 L401.5,226.2 L402.8,227.3 L403.5,228.7 L404.1,230.3 L405.6,230.4 L407,229.6 L408.5,230.2 L408.9,231.7 L409.1,233.3 L410.9,233.4 L412.5,234.3 L414.3,234.5 L416,235.4 L417.6,236.5 L419.1,237.8 L420.8,238.2 L421.5,239.8 L423.2,240.3 L424.2,241.5 L425.1,242.9 L425.9,244.4 L426.7,246 L428,246.4 L429.3,247.2 L429.9,248.6 L430.2,250.1 L429.8,251.7 L431.2,252.7 L432.4,253.9 L434,254.6 L435.6,255.4 L434.5,256.5 L433.6,257.7 L432.9,259.1 L434.3,260.7 L435.5,262.2 L437.4,262.5 L439.2,262.9 L440,265 L438.9,266.3 L438,267.6 L437,269.1 L436.8,270.8 L436.6,272.7 L437.3,274.4 L438.7,275.8 L438,277.4 L436.9,278.7 L436.2,280.2 L436.2,281.9 L435.9,283.5 L436,285.1 L435.1,286.7 L434.1,288.4 L435.3,289.3 L435.5,290.8 L433.8,291.4 L433.2,293.3 L431.7,294 L431.1,295.9 L430.1,297.6 L428.5,298.9 L427.1,299.9 L426.3,301.4 L425.6,303.1 L424.3,304.2 L423.2,305.6 L421.5,306.5 L420.2,307.7 L419.1,309.1 L417.8,310 L416.9,311.4 L415.3,311.9 L414,312.8 L412.7,313.6 L411.9,315.1 L410.3,315.7 L409.1,316.5 L407.7,317 L406.1,317.4 L405,318.7 L403.4,319.3 L402.2,320.5 L400.6,321.2 L400.2,323.1 L398.6,323.7 L397.2,324.8 L395.5,325.1 L394,325.9 L392.3,326.4 L390.7,326.8 L389.6,328.3 L387.9,328.7 L386.4,329.5 L385.2,330.6 L383.7,331.4 L382.5,332.5 L380.9,333 L379.5,333.9 L377.7,334 L376.3,335.3 L374.6,335.6 L373.1,336.3 L371.5,336.8 L369.9,337.6 L368.1,339 L366.5,339.2 L365,339.9 L363.3,340.1 L361.6,340.2 L360.2,341.1 L358.8,342.2 L357.1,342.2 L355.5,342.5 L353.8,342.6 L352.3,343.2 L350.7,343.4 L349.3,344.8 L347.5,344.1 L346,344.7 L344.4,345.3 L342.9,345.7 L341.2,345.8 L339.9,347.1 L338.1,346.7 L336.5,347.2 L335.1,348.3 L333.4,348.1 L331.8,348.7 L330.3,349.3 L328.6,349.2 L327.2,350.3 L325.5,350.2 L324,350.7 L322.5,351.3 L320.8,351.3 L319.3,351.8 L317.7,352.2 L315.8,351.8 L314.2,353.1 L312.4,353.4 L310.6,353 L308.7,352.8 L307,353.3 L305.2,353.6 L303.4,353.9 L301.6,353.9 L299.8,354.5 L298,354.8 L296.2,354.8 L294.5,355.5 L292.6,355.4 L290.8,355 L289,355.9 L287.2,355.3 L285.4,355.4 L283.6,356 L281.8,355.8 L280,356.1 L278.3,355.6 L276.6,356.4 L274.9,356.2 L273.2,355.8 L271.5,355.6 L269.8,355.7 L268.1,355.5 L266.3,355.2 L264.5,354.7 L262.7,355.5 L260.9,355.3 L259.1,355.4 L257.3,355.4 L255.5,355.2 L253.7,355.4 L251.9,354.9 L250.1,355.1 L248.3,354.9 L246.5,354.4 L244.7,355.3 L242.9,354.6 L241.1,354.7 L239.3,354 L237.5,353.6 L235.7,353.5 L233.9,353.6 L232.2,352.8 L230.3,353.1 L228.8,352.3 L227.1,352.1 L225.6,351.4Z" fill="none" stroke="#242424" stroke-width="1" stroke-linejoin="round"/>
<path d="M200,325 L200.3,323.3 L200.2,321.6 L200.6,320 L200.8,318.3 L200.6,316.6 L200.7,314.9 L202.1,313.6 L201.9,311.8 L202.5,310.3 L203.8,309 L203.9,307.1 L204.9,305.7 L205.2,304 L206.3,302.5 L206.7,300.6 L208.1,299.4 L209,297.8 L209.8,296.5 L210.9,295.3 L211.7,294 L212,292.4 L213.4,291.5 L214.5,290.2 L215.3,288.7 L216.2,287.3 L217.8,286.5 L218.9,285.1 L220.4,284.1 L221.8,282.9 L222.9,281.5 L224.1,280.2 L225.2,279 L226.7,278.4 L227.7,277 L229.4,276.5 L230.4,275.2 L231.6,273.7 L233.2,272.8 L234.8,272 L236.7,271.5 L238.1,270.5 L239.8,269.9 L241.2,268.8 L242.9,268.2 L244.4,267.3 L246,266.4 L247.7,265.9 L249.2,265 L251,264.8 L252.4,264 L254.1,263.6 L255.5,262.6 L257.4,262.4 L258.9,261.4 L260.5,260.5 L262.1,260.5 L263.6,260.1 L265,259.5 L266.3,258.5 L267.9,258.4 L269.4,257.5 L271.1,257.9 L272.6,257.2 L274.1,256.6 L275.6,255.9 L277.4,256.5 L278.9,255.9 L280.4,255 L282.1,255.7 L283.6,255.1 L285.2,254.9 L286.7,254.6 L288.3,255 L289.9,254.9 L291.4,254.1 L293,254.4 L294.5,253.7 L296.1,254.4 L297.7,254 L299.4,254.5 L301,254.5 L302.6,253.8 L304.1,254.6 L305.8,254.1 L307.4,254 L308.9,254.8 L310.8,254.2 L312.6,254.4 L314.5,254.7 L316.4,254.8 L318.3,255.3 L320,256 L321.4,257.4 L323.1,257.2 L324.8,258 L326.4,257.7 L327.8,258.3 L329.1,259.2 L330.3,260.1 L331.9,260.5 L333.6,260.6 L335.3,260.7 L336.9,261.1 L338.6,261.7 L340.3,261.4 L341.6,262.9 L342.8,264.6 L344.2,265.1 L345.5,266 L346.6,267.2 L348.5,267.3 L350.4,267.6 L352.1,268.8 L352.9,270.8 L354.1,272.4 L355.5,273.7 L356.9,274.7 L358.6,275.2 L360.1,276.4 L360.5,278.2 L361.7,279.6 L362.8,281.3 L364.2,282.7 L364.8,284.1 L365.6,285.4 L366.7,286.3 L368.1,286.3 L369.1,287.1 L368.4,288.5 L369.1,290.1 L368.6,291.5 L369.1,293.4 L370,295.3 L369.8,297 L369.7,298.7 L369.2,300.3 L368.2,302.2 L367.5,304.1 L367.8,305.3 L367.9,306.5 L367.2,308.6 L365.5,310 L365.4,310 L364.4,311.5 L363.3,312.9 L361.7,313.8 L361.4,315.3 L360.6,316.5 L359.3,317.4 L357.9,318.1 L357,319.6 L355.5,320.2 L354.4,321.6 L352.7,322.5 L351.7,324 L350.2,324.7 L349.4,326.4 L347.9,327.1 L346.3,327.9 L344.6,328.7 L343.4,330.1 L342.1,331.4 L340.5,332.2 L338.7,332.9 L337.2,334.2 L335.3,334.6 L333.5,334.9 L332.1,336.3 L330.3,336.6 L328.6,336.8 L327.1,337.6 L325.4,338.1 L324,339.2 L322.6,340.1 L320.9,340.6 L319.1,340.6 L317.7,341.7 L316.2,342.4 L314.6,342.9 L313,343.6 L311.4,344.1 L309.7,344.1 L308.4,345.5 L306.9,346.2 L305.2,346 L303.5,346.2 L301.9,346.5 L300.5,347.6 L298.9,347.7 L297.2,347.7 L295.8,348.8 L294.1,348.5 L292.6,349 L291,349.2 L289.4,349.7 L287.9,350.3 L286.3,350.5 L284.8,350.9 L283.2,351.2 L281.6,350.7 L280,351.1 L278.3,350.8 L276.7,352 L274.8,351.2 L273.2,351.6 L271.4,351.6 L269.7,351.8 L268.1,352.4 L266.3,352.5 L264.5,353.2 L262.7,352.3 L260.9,353.1 L259.1,353 L257.3,352.6 L255.5,352.8 L253.7,352.8 L251.9,352.1 L250.1,352.4 L248.3,352.6 L246.5,352.6 L244.7,351.8 L242.9,352.1 L241.3,351.6 L239.5,351.9 L237.8,351.9 L236.2,351.3 L234.5,350.7 L232.8,351 L231.3,350.1 L229.8,349.5 L228.2,349.1 L226.6,348.9 L224.6,348.2 L223.4,346.5 L223.2,344.6 L221.6,343.3 L221.5,341.5 L219.5,341.1 L217.7,340.2 L216.1,340 L214.5,339.7 L213,339.1 L211.4,339.4 L209.8,339.5 L208.2,339.2 L206.7,339 L205.1,338.4 L204.5,336.9 L203.4,335.9 L201.9,335.2 L201.5,333.6 L200.8,332.1 L200.4,330.5 L200,328.9 L200.3,326.9Z" fill="none" stroke="#242424" stroke-width="1" stroke-linejoin="round"/>
<path d="M205.1,325 L205.1,323.4 L205.7,322 L205.7,320.5 L206.3,319 L206.9,317.5 L208.1,316.1 L208.6,314.5 L209,312.8 L209.6,311.1 L210.8,309.7 L211.5,307.9 L212.6,306.4 L213.4,305 L214.5,303.8 L216.1,303.1 L217,301.8 L217.8,300.4 L219.2,299.5 L220,298 L221.3,297.1 L222.8,296.3 L224,295.3 L225.8,294.6 L227.4,293.7 L228.5,292 L230.3,291.4 L231.9,291 L233.5,290.2 L234.9,289.2 L236.6,288.9 L238,288 L239.9,288.4 L241.4,287.9 L242.9,287 L244.4,286.5 L246.1,286.8 L247.6,286.2 L249.2,285.9 L250.9,285.8 L252.4,285.2 L253.9,284.7 L255.5,284.5 L257.1,284.3 L258.6,283.8 L260.2,283.8 L261.8,284 L263.4,283.3 L264.9,283.3 L266.5,283.8 L268.1,283.5 L269.6,283.7 L271.2,283.7 L272.8,283.7 L274.3,284.1 L276.2,283.8 L278.1,284.2 L280,284.4 L281.6,285 L283.4,284.9 L285,285.3 L286.6,286.1 L288.4,286 L290,286.5 L291.5,287.7 L293.5,287.8 L295,288.9 L296.9,288.7 L298.7,289.1 L300,290.2 L301.5,290.9 L302.6,292.1 L304.6,292.1 L306.4,292.8 L308.3,293.7 L309.5,295.3 L310.2,296.7 L311.2,297.8 L312.5,298.5 L313.1,299.9 L314.8,300.4 L315.3,301.9 L315.4,303.6 L316.2,305 L317.1,306.4 L316.8,307.9 L317.4,309.4 L317.6,310.8 L318.9,312.5 L319.7,314.6 L318.8,315.8 L318.3,317.3 L317.1,318.3 L317.6,320.1 L319,321.4 L317.9,322.9 L316.4,323.9 L314.7,324.7 L313.4,325.7 L312.7,327.1 L311.6,328.3 L310.5,329.6 L308.8,330.2 L307.4,331.4 L305.9,332.6 L304.4,333.7 L302.7,334.4 L301.3,335.6 L299.4,336.2 L298.2,337.7 L296.5,338.5 L294.7,339.2 L293.1,340.3 L291.2,340.7 L289.8,341.9 L288,342.1 L286.3,342.7 L284.8,343.4 L283,343.4 L281.6,344.5 L280,345.1 L278.3,345.6 L276.7,346.6 L274.8,346.7 L273,347.3 L271.3,347 L269.6,347.3 L268,347.9 L266.3,348.6 L264.6,348.6 L262.9,348.6 L261.2,348.9 L259.6,349 L257.8,348.4 L256.2,349.3 L254.5,349.5 L252.8,349 L251,348.9 L249.3,348.3 L247.5,348.8 L245.8,348.2 L244,348.4 L242.3,348 L240.5,347.9 L238.7,348 L236.9,348.2 L235.2,347.7 L233.7,346.8 L232.2,346.4 L230.6,345.9 L228.9,346 L227.1,344.9 L225.3,344 L224,342.7 L222.9,341.3 L221.4,340.3 L219.9,339.7 L218.3,339.2 L216.6,339.1 L215.1,338.3 L213.7,337.4 L211.8,337.9 L210.5,336.5 L208.9,336.4 L207.9,335.1 L206.3,334.4 L205.8,332.8 L204.9,331.2 L205.3,329.3 L204.5,327.7 L204.3,326.2Z" fill="none" stroke="#242424" stroke-width="1" stroke-linejoin="round"/>
<path d="M212.6,329 L213.1,327.4 L213.3,325.7 L213.3,324.1 L214.3,322.4 L215.3,320.8 L215.6,318.8 L216.8,317.8 L218.2,317 L219.1,315.7 L220.2,314.6 L221.2,313.4 L222.6,312.9 L223.8,311.9 L225.2,311.4 L226.8,310.7 L228.1,309.3 L229.7,308.7 L231.4,308.1 L233.1,308.2 L234.6,307.6 L236,306.5 L237.7,306.5 L239.2,305.7 L240.9,306 L242.4,305.2 L244,305.1 L245.6,305.7 L247.1,304.9 L248.7,304.8 L250.3,305.3 L251.8,305.7 L253.5,305.2 L255,306.1 L256.6,305.7 L258.2,306.1 L259.8,305.7 L261.3,306.7 L262.9,306.5 L264.3,307.4 L265.9,307.9 L267.7,307.8 L269.2,308.6 L270.9,309.1 L272.5,310 L274.2,310.7 L275.5,312 L276.7,313.3 L278.4,314.2 L279.1,315.8 L280.2,317.2 L281.1,318.6 L281.7,320.2 L282,321.9 L282.4,323.5 L282.4,325.2 L281.5,327 L281.2,329.1 L279.6,330.2 L279.5,332.2 L277.9,333.3 L276.5,334.1 L275.8,335.9 L274.1,336.4 L272.6,337.7 L270.8,338.6 L269.3,339.9 L267.8,340.8 L266.2,341.3 L264.3,341.1 L262.9,342.3 L261.2,342.4 L259.6,342.7 L258,343.2 L256.6,344.2 L255.1,344.5 L253.4,344.6 L251.8,344.6 L250.3,345.2 L248.7,344.9 L247.1,344.9 L245.6,344.9 L244,345.5 L242.5,344.7 L240.8,345.4 L239.3,345 L237.7,344.7 L236.2,343.9 L234.5,344.3 L233.1,343.3 L231.4,343.5 L229.6,342.8 L228,341.9 L226.4,341 L224.5,340.5 L222.9,339.6 L221.4,338.3 L220.2,336.9 L218.3,336.6 L216.9,335.4 L216.3,333.9 L214.9,333.1 L213.8,332.1 L212.9,330.7Z" fill="none" stroke="#242424" stroke-width="1" stroke-linejoin="round"/>
<path d="M235.0,329.6L245.6,329.6M236.6,325.9L244.0,333.3M240.3,324.3L240.3,334.9M244.0,325.9L236.6,333.3" stroke="#2a2420" stroke-width="0.9" fill="none"/>
<circle cx="240.3" cy="329.6" r="1.7" fill="#111"/>
<rect x="195.8" y="342.1" width="1.1" height="1" fill="#222"/>
<rect x="198.1" y="345.2" width="1.1" height="1" fill="#222"/>
<rect x="200.3" y="345.9" width="1.1" height="1" fill="#222"/>
<rect x="206.4" y="343.7" width="1.1" height="1" fill="#222"/>
<rect x="207.9" y="344.0" width="1.1" height="1" fill="#222"/>
<rect x="210.2" y="343.3" width="1.1" height="1" fill="#222"/>
<rect x="210.9" y="344.0" width="1.1" height="1" fill="#222"/>
<rect x="215.4" y="342.9" width="1.1" height="1" fill="#222"/>
<rect x="217.0" y="343.7" width="1.1" height="1" fill="#222"/>
<rect x="211.7" y="348.9" width="1.1" height="1" fill="#222"/>
<rect x="214.7" y="352.0" width="1.1" height="1" fill="#222"/>
<rect x="216.2" y="351.2" width="1.1" height="1" fill="#222"/>
<rect x="217.7" y="348.2" width="1.1" height="1" fill="#222"/>
<rect x="218.8" y="348.9" width="1.1" height="1" fill="#222"/>
<rect x="213.2" y="354.2" width="1.1" height="1" fill="#222"/>
<rect x="214.3" y="354.6" width="1.1" height="1" fill="#222"/>
<rect x="217.0" y="355.0" width="1.1" height="1" fill="#222"/>
<rect x="192.0" y="335.3" width="1.1" height="1" fill="#222"/>
<rect x="192.8" y="336.1" width="1.1" height="1" fill="#222"/>
<rect x="190.2" y="324.8" width="1.1" height="1" fill="#222"/>
<rect x="194.7" y="341.0" width="1.1" height="1" fill="#222"/>
<rect x="195.4" y="342.9" width="1.1" height="1" fill="#222"/>
<rect x="207.1" y="344.8" width="1.1" height="1" fill="#222"/>
<rect x="218.1" y="349.7" width="1.1" height="1" fill="#222"/>
<path d="M207.6,339 L213.7,338.3 L219,339.8 L222.4,342.5 L224.1,346.4 L223.2,351.7 L221.2,354.9 L220.5,354.3 L222.1,350.9 L223,346.4 L221.5,342.9 L218.4,340.4 L213.7,338.9 L208.4,339.6Z" fill="#1c1c1c" stroke="#1c1c1c" stroke-width="0.5" stroke-linejoin="round"/>
<path d="M7.0,235.7L400.2,4.2L793.4,235.7L400.2,467.2Z" fill="none" stroke="#333" stroke-width="1.1" stroke-linejoin="miter"/>
<g font-family="'Liberation Sans', Arial, sans-serif" font-size="9px" fill="#444">
<text x="34.4" y="271.2" text-anchor="end">30</text>
<text x="90.6" y="304.3" text-anchor="end">20</text>
<text x="146.7" y="337.4" text-anchor="end">10</text>
<text x="202.9" y="370.4" text-anchor="end">0</text>
<text x="259.1" y="403.5" text-anchor="end">-10</text>
<text x="315.2" y="436.6" text-anchor="end">-20</text>
<text x="371.4" y="469.7" text-anchor="end">-30</text>
<text x="456.6" y="452.9">10</text>
<text x="512.7" y="419.9">20</text>
<text x="568.9" y="386.8">30</text>
<text x="625.1" y="353.7">40</text>
<text x="681.3" y="320.6">50</text>
<text x="737.4" y="287.6">60</text>
</g>
<g font-family="'Liberation Sans', Arial, sans-serif" font-size="14.6px" fill="#111" stroke="#111" stroke-width="0.35">
<text transform="translate(5.6,507.8) scale(0.985,1)">lux &gt;=</text>
<rect x="67.6" y="496.8" width="25.5" height="14.4" rx="0.8" fill="#fff" stroke="#555" stroke-width="1.1"/>
<text transform="translate(56.25,507.8) scale(0.9,1)" text-anchor="middle">0</text>
<text transform="translate(106.0,507.8) scale(0.9,1)" text-anchor="middle">1</text>
<text transform="translate(157.1,507.8) scale(0.9,1)" text-anchor="middle">2</text>
<text transform="translate(211.0,507.8) scale(0.9,1)" text-anchor="middle">4</text>
<text transform="translate(264.5,507.8) scale(0.9,1)" text-anchor="middle">8</text>
<text transform="translate(318.1,507.8) scale(0.9,1)" text-anchor="middle">16</text>
</g>
<rect x="116.9" y="496.6" width="25.6" height="14.4" fill="#e5e40c"/>
<rect x="168.1" y="496.6" width="25.6" height="14.4" fill="#ffd900"/>
<rect x="221.6" y="496.6" width="25.6" height="14.4" fill="#fdb80c"/>
<rect x="275.1" y="496.6" width="25.6" height="14.4" fill="#f79c0a"/>
<rect x="329.0" y="496.6" width="25.6" height="14.4" fill="#f1830c"/>
</svg>
</body></html>
